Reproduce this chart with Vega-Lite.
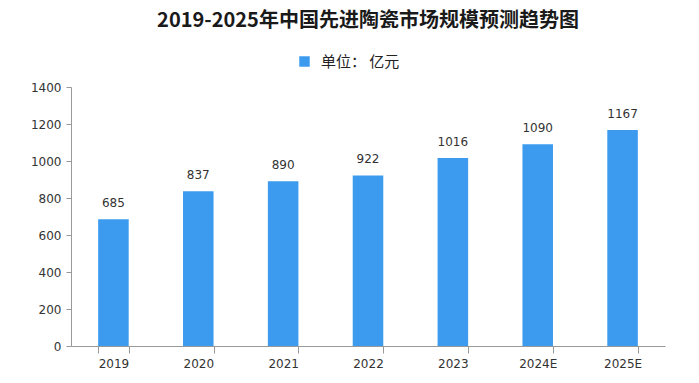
{
  "$schema": "https://vega.github.io/schema/vega-lite/v6.json",
  "width": 594,
  "height": 259,
  "autosize": {"type": "none"},
  "padding": {"left": 71, "top": 87, "right": 34, "bottom": 37},
  "background": "white",
  "title": {
    "text": "2019-2025年中国先进陶瓷市场规模预测趋势图",
    "font": "Noto Sans CJK SC",
    "fontSize": 20,
    "fontWeight": "bold",
    "color": "#1a1a1a",
    "anchor": "middle",
    "offset": 23
  },
  "data": {
    "values": [
      {"year": "2019", "value": 685, "unit": "单位： 亿元"},
      {"year": "2020", "value": 837, "unit": "单位： 亿元"},
      {"year": "2021", "value": 890, "unit": "单位： 亿元"},
      {"year": "2022", "value": 922, "unit": "单位： 亿元"},
      {"year": "2023", "value": 1016, "unit": "单位： 亿元"},
      {"year": "2024E", "value": 1090, "unit": "单位： 亿元"},
      {"year": "2025E", "value": 1167, "unit": "单位： 亿元"}
    ]
  },
  "encoding": {
    "x": {
      "field": "year",
      "type": "nominal",
      "sort": null,
      "scale": {"paddingInner": 0.64, "paddingOuter": 0.32},
      "axis": {
        "title": null,
        "labelAngle": 0,
        "labelFont": "DejaVu Sans",
        "labelFontSize": 12,
        "labelColor": "#333",
        "domainColor": "#999",
        "tickColor": "#999",
        "tickBand": "extent",
        "tickSize": 7,
        "labelPadding": 5
      }
    },
    "y": {
      "field": "value",
      "type": "quantitative",
      "scale": {"domain": [0, 1400]},
      "axis": {
        "title": null,
        "format": "d",
        "values": [0, 200, 400, 600, 800, 1000, 1200, 1400],
        "grid": false,
        "labelFont": "DejaVu Sans",
        "labelFontSize": 12,
        "labelColor": "#333",
        "domainColor": "#999",
        "tickColor": "#999",
        "tickSize": 5,
        "labelPadding": 5
      }
    }
  },
  "layer": [
    {
      "mark": {"type": "bar", "color": "#3d9bef"},
      "encoding": {
        "color": {
          "field": "unit",
          "type": "nominal",
          "scale": {"range": ["#3d9bef"]},
          "legend": {
            "title": null,
            "orient": "none",
            "legendX": 226,
            "legendY": -33,
            "symbolType": "square",
            "symbolSize": 110,
            "labelOffset": 9,
            "labelFont": "Noto Sans CJK SC",
            "labelFontSize": 15,
            "labelColor": "#222"
          }
        }
      }
    },
    {
      "mark": {"type": "text", "baseline": "bottom", "dy": -9, "font": "DejaVu Sans", "fontSize": 12, "color": "#333"},
      "encoding": {"text": {"field": "value", "type": "quantitative"}}
    }
  ],
  "config": {"view": {"stroke": null}}
}
